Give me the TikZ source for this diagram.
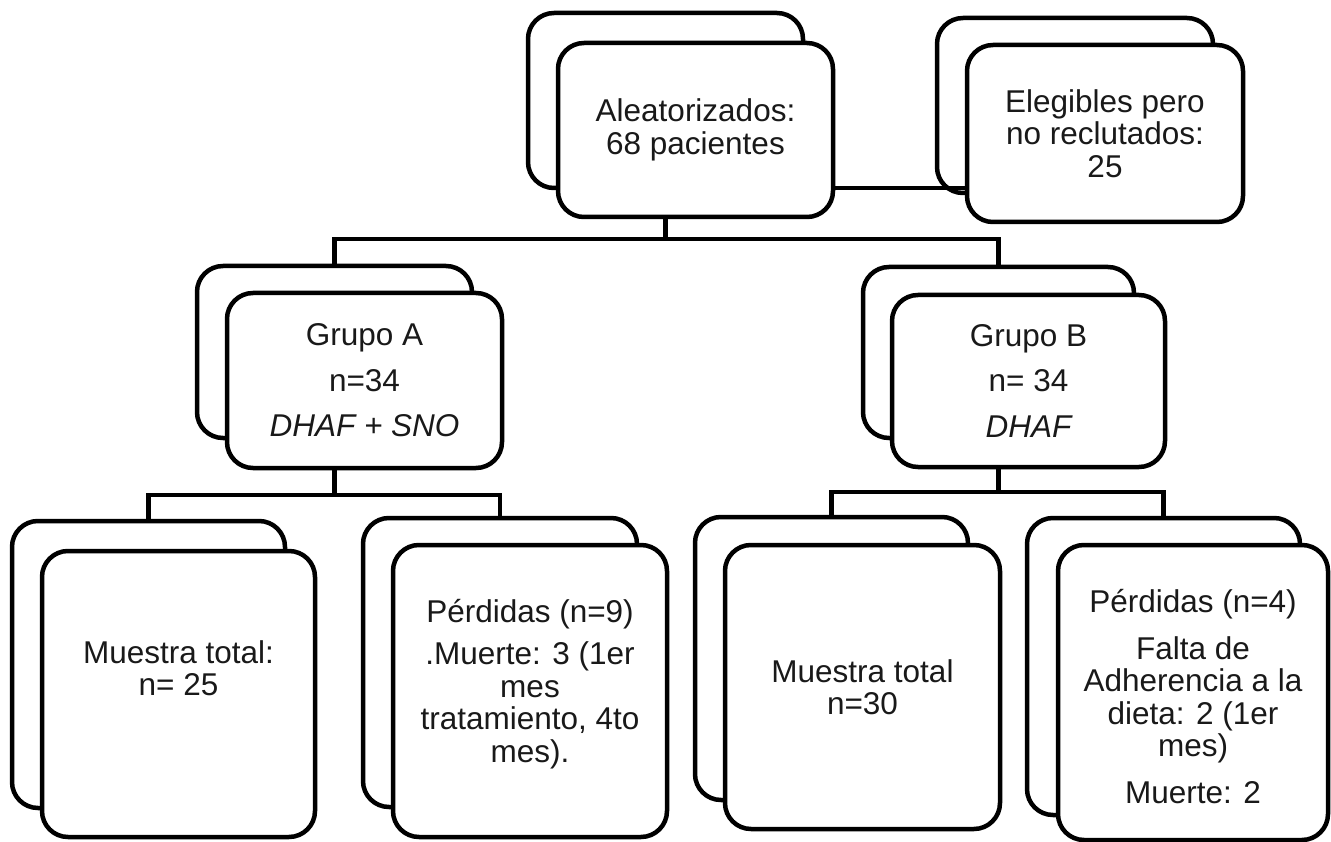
\documentclass[tikz,border=0pt]{standalone}
\usepackage{fontspec}
\setmainfont{Liberation Sans}
\begin{document}
\begin{tikzpicture}[x=1pt,y=-1pt,
  bx/.style 2 args={draw, line width=4.5pt, rounded corners=26pt, fill=white,
    inner sep=0pt, minimum width=#1pt, minimum height=#2pt,
    align=center, text=black!90, font=\fontsize{31.5}{32.5}\selectfont},
  txt/.style={align=center, inner sep=0pt, text=black!90,
    font=\fontsize{31.5}{32.5}\selectfont},
  conn/.style={draw, line width=4.5pt}
]
\useasboundingbox (0,0) rectangle (1331,842);

% Level 1
\node[bx={275}{175}] (alb) at (665.5,100.5) {};
\node[bx={275}{174}] (alf) at (695.5,130) {Aleatorizados:\\68 pacientes};
\node[bx={276}{175}] (elb) at (1075,105.5) {};
\node[bx={276}{177}] (elf) at (1105,133.5) {Elegibles pero\\no reclutados:\\25};

% Level 2
\node[bx={275}{172}] (gab) at (334.5,352) {};
\node[bx={275}{175}] (gaf) at (364.5,380.5) {Grupo A\\[13pt]n=34\\[13pt]\itshape DHAF + SNO};
\node[bx={271}{171}] (gbb) at (998.5,352.5) {};
\node[bx={273}{172}] (gbf) at (1028.5,381) {Grupo B\\[13pt]n= 34\\[13pt]\itshape DHAF};

% Level 3
\node[bx={273}{287}] (mab) at (148.5,664.5) {};
\node[bx={273}{286}] (maf) at (178.5,694) {};
\node[txt] (mat) at ([yshift=26pt]maf.center) {Muestra total:\\n= 25};

\node[bx={274}{289}] (pab) at (500,662.5) {};
\node[bx={274}{292}] (paf) at (530,691) {};
\node[txt] (pat) at ([yshift=7pt]paf.center) {P\'erdidas (n=9)\\[10pt].Muerte: 3 (1er\\mes\\tratamiento, 4to\\mes).};

\node[bx={273}{283}] (mbb) at (831.5,658.5) {};
\node[bx={275}{284}] (mbf) at (862.5,687) {Muestra total\\n=30};

\node[bx={273}{297}] (pbb) at (1163.5,666.5) {};
\node[bx={270}{295}] (pbf) at (1193,692.5) {};
\node[txt] (pbt) at ([yshift=-4pt]pbf.center) {P\'erdidas (n=4)\\[14pt]Falta de\\Adherencia a la\\dieta: 2 (1er\\mes)\\[14pt]Muerte: 2};

% Connectors
\coordinate (j1) at (665.5,239);
\coordinate (j2) at (334.5,495);
\coordinate (j3) at (998.5,492);

\draw[conn] ([yshift=-58pt]alf.east) -- ([yshift=-58pt]alf.east -| elf.west);
\draw[conn] (alb.south |- alf.south) -- (j1);
\draw[conn] (gab.north) |- (j1) -| (gbb.north);
\draw[conn] (gab.south |- gaf.south) -- (j2);
\draw[conn] (mab.north) |- (j2) -| (pab.north);
\draw[conn] (gbb.south |- gbf.south) -- (j3);
\draw[conn] (mbb.north) |- (j3) -| (pbb.north);
\end{tikzpicture}
\end{document}
